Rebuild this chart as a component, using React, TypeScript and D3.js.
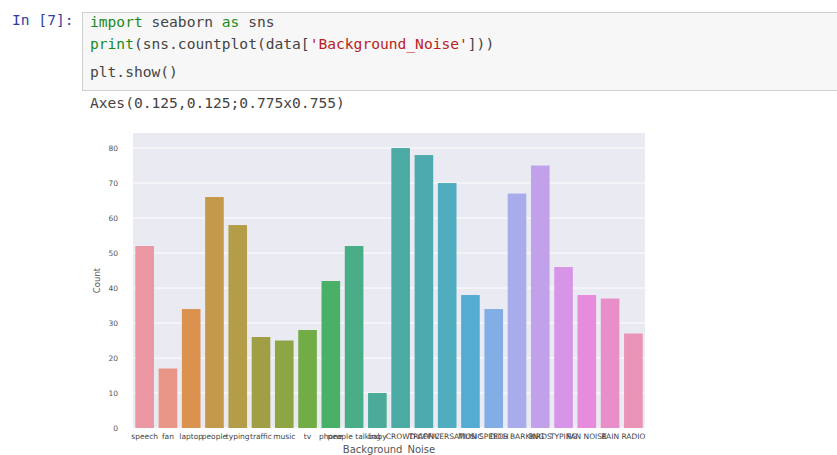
import React from "react";
import * as d3 from "d3";

const categories = [
  "speech", "fan", "laptop", "people", "typing", "traffic", "music", "tv",
  "phone", "people talking", "baby", "CROWD", "TRAFFIC", "CONVERSATION",
  "MUSIC", "SPEECH", "DOG BARKING", "BIRDS", "TYPING", "FAN NOISE", "RAIN", "RADIO",
];
const counts = [52, 17, 34, 66, 58, 26, 25, 28, 42, 52, 10, 80, 78, 70, 38, 34, 67, 75, 46, 38, 37, 27];
const yTicks = [0, 10, 20, 30, 40, 50, 60, 70, 80];

// ---- HUSL (hsluv) conversion, as used by seaborn's husl_palette ----
const M = [
  [3.240969941904521, -1.537383177570093, -0.498610760293],
  [-0.96924363628087, 1.87596750150772, 0.041555057407175],
  [0.055630079696993, -0.20397695888897, 1.056971514242878],
];
const refU = 0.19783000664283;
const refV = 0.46831999493879;
const kappa = 903.2962962;
const epsilon = 0.0088564516;

function getBounds(L: number) {
  const res: [number, number][] = [];
  const sub1 = Math.pow(L + 16, 3) / 1560896;
  const sub2 = sub1 > epsilon ? sub1 : L / kappa;
  for (const [m1, m2, m3] of M) {
    for (const t of [0, 1]) {
      const top1 = (284517 * m1 - 94839 * m3) * sub2;
      const top2 = (838422 * m3 + 769860 * m2 + 731718 * m1) * L * sub2 - 769860 * t * L;
      const bottom = (632260 * m3 - 126452 * m2) * sub2 + 126452 * t;
      res.push([top1 / bottom, top2 / bottom]);
    }
  }
  return res;
}
function maxChroma(L: number, H: number) {
  const hr = (H / 360) * Math.PI * 2;
  let min = Infinity;
  for (const [slope, intercept] of getBounds(L)) {
    const len = intercept / (Math.sin(hr) - slope * Math.cos(hr));
    if (len >= 0) min = Math.min(min, len);
  }
  return min;
}
function fromLinear(c: number) {
  return c <= 0.0031308 ? 12.92 * c : 1.055 * Math.pow(c, 1 / 2.4) - 0.055;
}
function huslToRgb(H: number, S: number, L: number): [number, number, number] {
  const C = (maxChroma(L, H) / 100) * S;
  const hr = (H / 360) * Math.PI * 2;
  const U = Math.cos(hr) * C;
  const V = Math.sin(hr) * C;
  const varU = U / (13 * L) + refU;
  const varV = V / (13 * L) + refV;
  const Y = L <= 8 ? L / kappa : Math.pow((L + 16) / 116, 3);
  const X = 0 - (9 * Y * varU) / ((varU - 4) * varV - varU * varV);
  const Z = (9 * Y - 15 * varV * Y - varV * X) / (3 * varV);
  const xyz = [X, Y, Z];
  return M.map((r) => fromLinear(r[0] * xyz[0] + r[1] * xyz[1] + r[2] * xyz[2])) as [number, number, number];
}
function huslPalette(n: number, h = 0.01, s = 0.9, l = 0.7) {
  const out: string[] = [];
  for (let i = 0; i < n; i++) {
    const hue = (((i / n) + h) % 1) * 359;
    const [r, g, b] = huslToRgb(hue, s * 99, l * 99);
    const c = d3.hsl(d3.rgb(r * 255, g * 255, b * 255));
    c.s *= 0.75;
    out.push(c.formatHex());
  }
  return out;
}

const W = 837;
const H = 455;
const plot = { left: 133, right: 645, top: 133, bottom: 428 };

export default function App() {
  const colors = huslPalette(categories.length);
  const x = d3.scaleBand<string>().domain(categories).range([plot.left, plot.right]).paddingInner(0.2).paddingOuter(0.1);
  const y = d3.scaleLinear().domain([0, 84.3]).range([plot.bottom, plot.top]);
  const mono = "'DejaVu Sans Mono', 'Liberation Mono', monospace";
  const sans = "'DejaVu Sans', sans-serif";
  const codeSize = 14.6;

  return (
    <div style={{ position: "absolute", left: 0, top: 0 }}>
      <svg width={W} height={H} style={{ display: "block", background: "#fff" }}>
        {/* notebook cell */}
        <text x={12} y={25} fontFamily={mono} fontSize={codeSize} fill="#303F9F">In [7]:</text>
        <rect x={82.5} y={12.5} width={760} height={78} fill="#f7f7f7" stroke="#cfcfcf" />
        <text x={90} y={27} fontFamily={mono} fontSize={codeSize} fill="#444">
          <tspan fill="#1a8a1a">import</tspan>
          <tspan> seaborn </tspan>
          <tspan fill="#1a8a1a">as</tspan>
          <tspan> sns</tspan>
        </text>
        <text x={90} y={49} fontFamily={mono} fontSize={codeSize} fill="#444">
          <tspan fill="#1a8a1a">print</tspan>
          <tspan>(sns.countplot(data[</tspan>
          <tspan fill="#BA2121">'Background_Noise'</tspan>
          <tspan>]))</tspan>
        </text>
        <text x={90} y={77} fontFamily={mono} fontSize={codeSize} fill="#444">plt.show()</text>
        <text x={90} y={108} fontFamily={mono} fontSize={codeSize} fill="#444">Axes(0.125,0.125;0.775x0.755)</text>

        {/* axes background */}
        <rect x={plot.left} y={plot.top} width={plot.right - plot.left} height={plot.bottom - plot.top} fill="#EAEAF2" />
        {yTicks.map((t) => (
          <g key={t}>
            <line x1={plot.left} x2={plot.right} y1={y(t)} y2={y(t)} stroke="#fff" strokeWidth={1} />
            <text x={118} y={y(t)} dy="0.35em" textAnchor="end" fontFamily={sans} fontSize={7.5} fill="#555">{t}</text>
          </g>
        ))}
        {categories.map((c, i) => (
          <rect key={c} x={x(c)} y={y(counts[i])} width={x.bandwidth()} height={y(0) - y(counts[i])} fill={colors[i]} />
        ))}
        {categories.map((c) => (
          <text key={c} x={(x(c) as number) + x.bandwidth() / 2} y={439} textAnchor="middle" fontFamily={sans} fontSize={7.5} fill="#444">{c}</text>
        ))}
        <text transform={`translate(100,${(plot.top + plot.bottom) / 2}) rotate(-90)`} textAnchor="middle" fontFamily={sans} fontSize={8.5} fill="#555">Count</text>
        <text x={(plot.left + plot.right) / 2} y={453} textAnchor="middle" fontFamily={sans} fontSize={10} fill="#555">Background_Noise</text>
      </svg>
    </div>
  );
}
